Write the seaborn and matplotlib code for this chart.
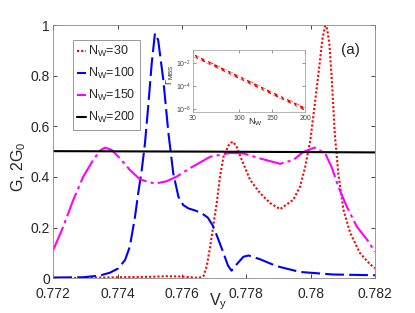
import numpy as np
import pandas as pd
import matplotlib
matplotlib.use("Agg")
import matplotlib.pyplot as plt
import seaborn as sns

# main panel: conductance vs V_y
v_n30 = [0.7720, 0.7730, 0.7740, 0.7750, 0.7755, 0.7760, 0.7765, 0.7766, 0.77667, 0.77677,
         0.77688, 0.77697, 0.77708, 0.77718, 0.77729, 0.77745, 0.77752, 0.77759, 0.77770, 0.77786,
         0.77812, 0.77843, 0.77874, 0.77905, 0.77946, 0.77967, 0.77983, 0.77999, 0.78013, 0.78029,
         0.78036, 0.78045, 0.78051, 0.78058, 0.78065, 0.78075, 0.78086, 0.78102, 0.78123, 0.78153,
         0.78185, 0.78200]
g_n30 = [0.001, 0.002, 0.004, 0.006, 0.008, 0.007, 0.002, 0.004, 0.009, 0.048,
         0.127, 0.205, 0.297, 0.400, 0.480, 0.525, 0.535, 0.539, 0.519, 0.467,
         0.388, 0.336, 0.297, 0.273, 0.310, 0.362, 0.440, 0.545, 0.689, 0.859,
         0.940, 0.998, 0.985, 0.930, 0.800, 0.571, 0.414, 0.270, 0.179, 0.100,
         0.055, 0.040]

v_n100 = [0.7720, 0.77293, 0.77345, 0.77376, 0.77402, 0.77423, 0.77438, 0.77454, 0.77464, 0.77475,
          0.77485, 0.77495, 0.77506, 0.77516, 0.77526, 0.77542, 0.77558, 0.77573, 0.77589, 0.77604,
          0.77620, 0.77640, 0.77660, 0.77680, 0.77695, 0.77708, 0.77729, 0.77743, 0.77754, 0.77770,
          0.77791, 0.77807, 0.77843, 0.77894, 0.77967, 0.78070, 0.78200]
g_n100 = [0.003, 0.004, 0.011, 0.022, 0.039, 0.072, 0.125, 0.243, 0.336, 0.428,
          0.533, 0.678, 0.849, 0.967, 0.941, 0.783, 0.572, 0.414, 0.322, 0.289,
          0.276, 0.268, 0.258, 0.240, 0.210, 0.170, 0.100, 0.050, 0.030, 0.055,
          0.085, 0.090, 0.075, 0.048, 0.025, 0.015, 0.012]

v_n150 = [0.7720, 0.77231, 0.77262, 0.77293, 0.77324, 0.77345, 0.77361, 0.77381, 0.77407, 0.77438,
          0.77469, 0.77501, 0.77521, 0.77552, 0.77583, 0.77625, 0.77688, 0.77750, 0.77791, 0.77843,
          0.77905, 0.77946, 0.77977, 0.78013, 0.78045, 0.78065, 0.78086, 0.78112, 0.78143, 0.78175,
          0.78200]
g_n150 = [0.112, 0.204, 0.309, 0.401, 0.467, 0.504, 0.516, 0.507, 0.474, 0.428,
          0.391, 0.378, 0.375, 0.383, 0.401, 0.435, 0.480, 0.495, 0.493, 0.473,
          0.452, 0.467, 0.499, 0.516, 0.493, 0.440, 0.362, 0.284, 0.205, 0.153,
          0.105]

v_n200 = [0.772, 0.777, 0.782]
g_n200 = [0.502, 0.500, 0.497]

# inset: Gamma_MBS vs N_W (log scale)
inset_nw = [30, 40, 50, 60, 70, 80, 90, 100, 110, 120, 130, 140, 150, 160, 170, 180, 190, 200]
inset_gamma = [5.0e-2, 2.65e-2, 1.40e-2, 7.4e-3, 3.9e-3, 2.1e-3, 1.1e-3, 5.8e-4, 3.1e-4, 1.6e-4,
               8.6e-5, 4.5e-5, 2.4e-5, 1.28e-5, 6.8e-6, 3.6e-6, 1.9e-6, 1.0e-6]

labels = [r'N$_\mathrm{W}$=30', r'N$_\mathrm{W}$=100', r'N$_\mathrm{W}$=150', r'N$_\mathrm{W}$=200']
colors = ['#ff0000', '#0000ff', '#ff00ff', '#000000']
xtick_vals = [0.772, 0.774, 0.776, 0.778, 0.780, 0.782]
xtick_labels = ['0.772', '0.774', '0.776', '0.778', '0.78', '0.782']
ytick_vals = [0, 0.2, 0.4, 0.6, 0.8, 1]
ytick_labels = ['0', '0.2', '0.4', '0.6', '0.8', '1']

sns.set_style("ticks")
plt.rcParams['font.family'] = ['Liberation Sans', 'DejaVu Sans']
plt.rcParams['mathtext.fontset'] = 'custom'
plt.rcParams['mathtext.rm'] = 'Liberation Sans'
plt.rcParams['mathtext.it'] = 'Liberation Sans:italic'

frames = []
for lab, v, g in zip(labels, [v_n30, v_n100, v_n150, v_n200], [g_n30, g_n100, g_n150, g_n200]):
    frames.append(pd.DataFrame({"V": v, "G": g, "series": lab}))
df = pd.concat(frames, ignore_index=True)

fig = plt.figure(figsize=(4.15, 3.13), dpi=100)
ax = fig.add_axes([0.1284, 0.1109, 0.7752, 0.8092])

dash_map = {labels[0]: (1, 1), labels[1]: (9, 2.5), labels[2]: (12, 2, 1.5, 2), labels[3]: ""}
sns.lineplot(data=df, x="V", y="G", hue="series", style="series", hue_order=labels, style_order=labels,
             palette=dict(zip(labels, colors)), dashes=dash_map, estimator=None, sort=False,
             linewidth=1.5, ax=ax)

ax.set_xlim(0.772, 0.782)
ax.set_ylim(0, 1)
ax.set_xticks(xtick_vals)
ax.set_xticklabels(xtick_labels)
ax.set_yticks(ytick_vals)
ax.set_yticklabels(ytick_labels)
ax.tick_params(direction='in', top=True, right=True, length=3, width=0.6, labelsize=10,
               colors='#262626')
ax.tick_params(axis='x', pad=6.5)
ax.tick_params(axis='y', pad=2.5)
for sp in ax.spines.values():
    sp.set_color('#888888')
    sp.set_linewidth(0.6)
ax.set_xlabel(r'V$_\mathrm{y}$', fontsize=11.5)
ax.xaxis.set_label_coords(0.512, -0.05)
ax.xaxis.label.set_va('top')
ax.set_ylabel(r'G, 2G$_0$', fontsize=11.5)
ax.yaxis.set_label_coords(-0.080, 0.441)

leg = ax.get_legend()
handles = leg.legend_handles
hl = [t.get_text() for t in leg.get_texts()]
leg.remove()
ax.legend(handles, hl, loc='upper left', bbox_to_anchor=(0.060, 0.941), borderaxespad=0,
          fontsize=9, handlelength=0.7, handletextpad=0.2, labelspacing=0.55,
          fancybox=False, framealpha=1, edgecolor='#888888', borderpad=0.35)
ax.get_legend().get_frame().set_linewidth(0.6)

ax.text(0.924, 0.901, '(a)', transform=ax.transAxes, fontsize=11, ha='center', va='center')

# inset
axin = fig.add_axes([0.4639, 0.6431, 0.2711, 0.1971])
sns.lineplot(x=inset_nw, y=inset_gamma, ax=axin, color='red', marker='x', markersize=3,
             markeredgewidth=1, linewidth=2)
axin.set_yscale('log')
axin.set_xlim(30, 200)
axin.set_ylim(5.9e-7, 0.135)
axin.set_xticks([30, 100, 150, 200])
axin.set_xticklabels(['30', '100', '150', '200'])
axin.set_yticks([1e-2, 1e-4, 1e-6])
axin.minorticks_off()
axin.tick_params(direction='in', top=True, right=True, length=2, width=0.4, labelsize=5,
                 colors='#444444')
axin.tick_params(axis='x', pad=2.5)
axin.tick_params(axis='y', pad=1)
for sp in axin.spines.values():
    sp.set_color('#999999')
    sp.set_linewidth(0.5)
axin.set_xlabel(r'N$_\mathrm{W}$', fontsize=6.5)
axin.xaxis.set_label_coords(0.555, -0.07)
axin.xaxis.label.set_va('top')
axin.set_ylabel(r'$\Gamma_\mathrm{MBS}$', fontsize=6.5)
axin.yaxis.set_label_coords(-0.145, 0.6)

fig.savefig("out.png", dpi=100)
